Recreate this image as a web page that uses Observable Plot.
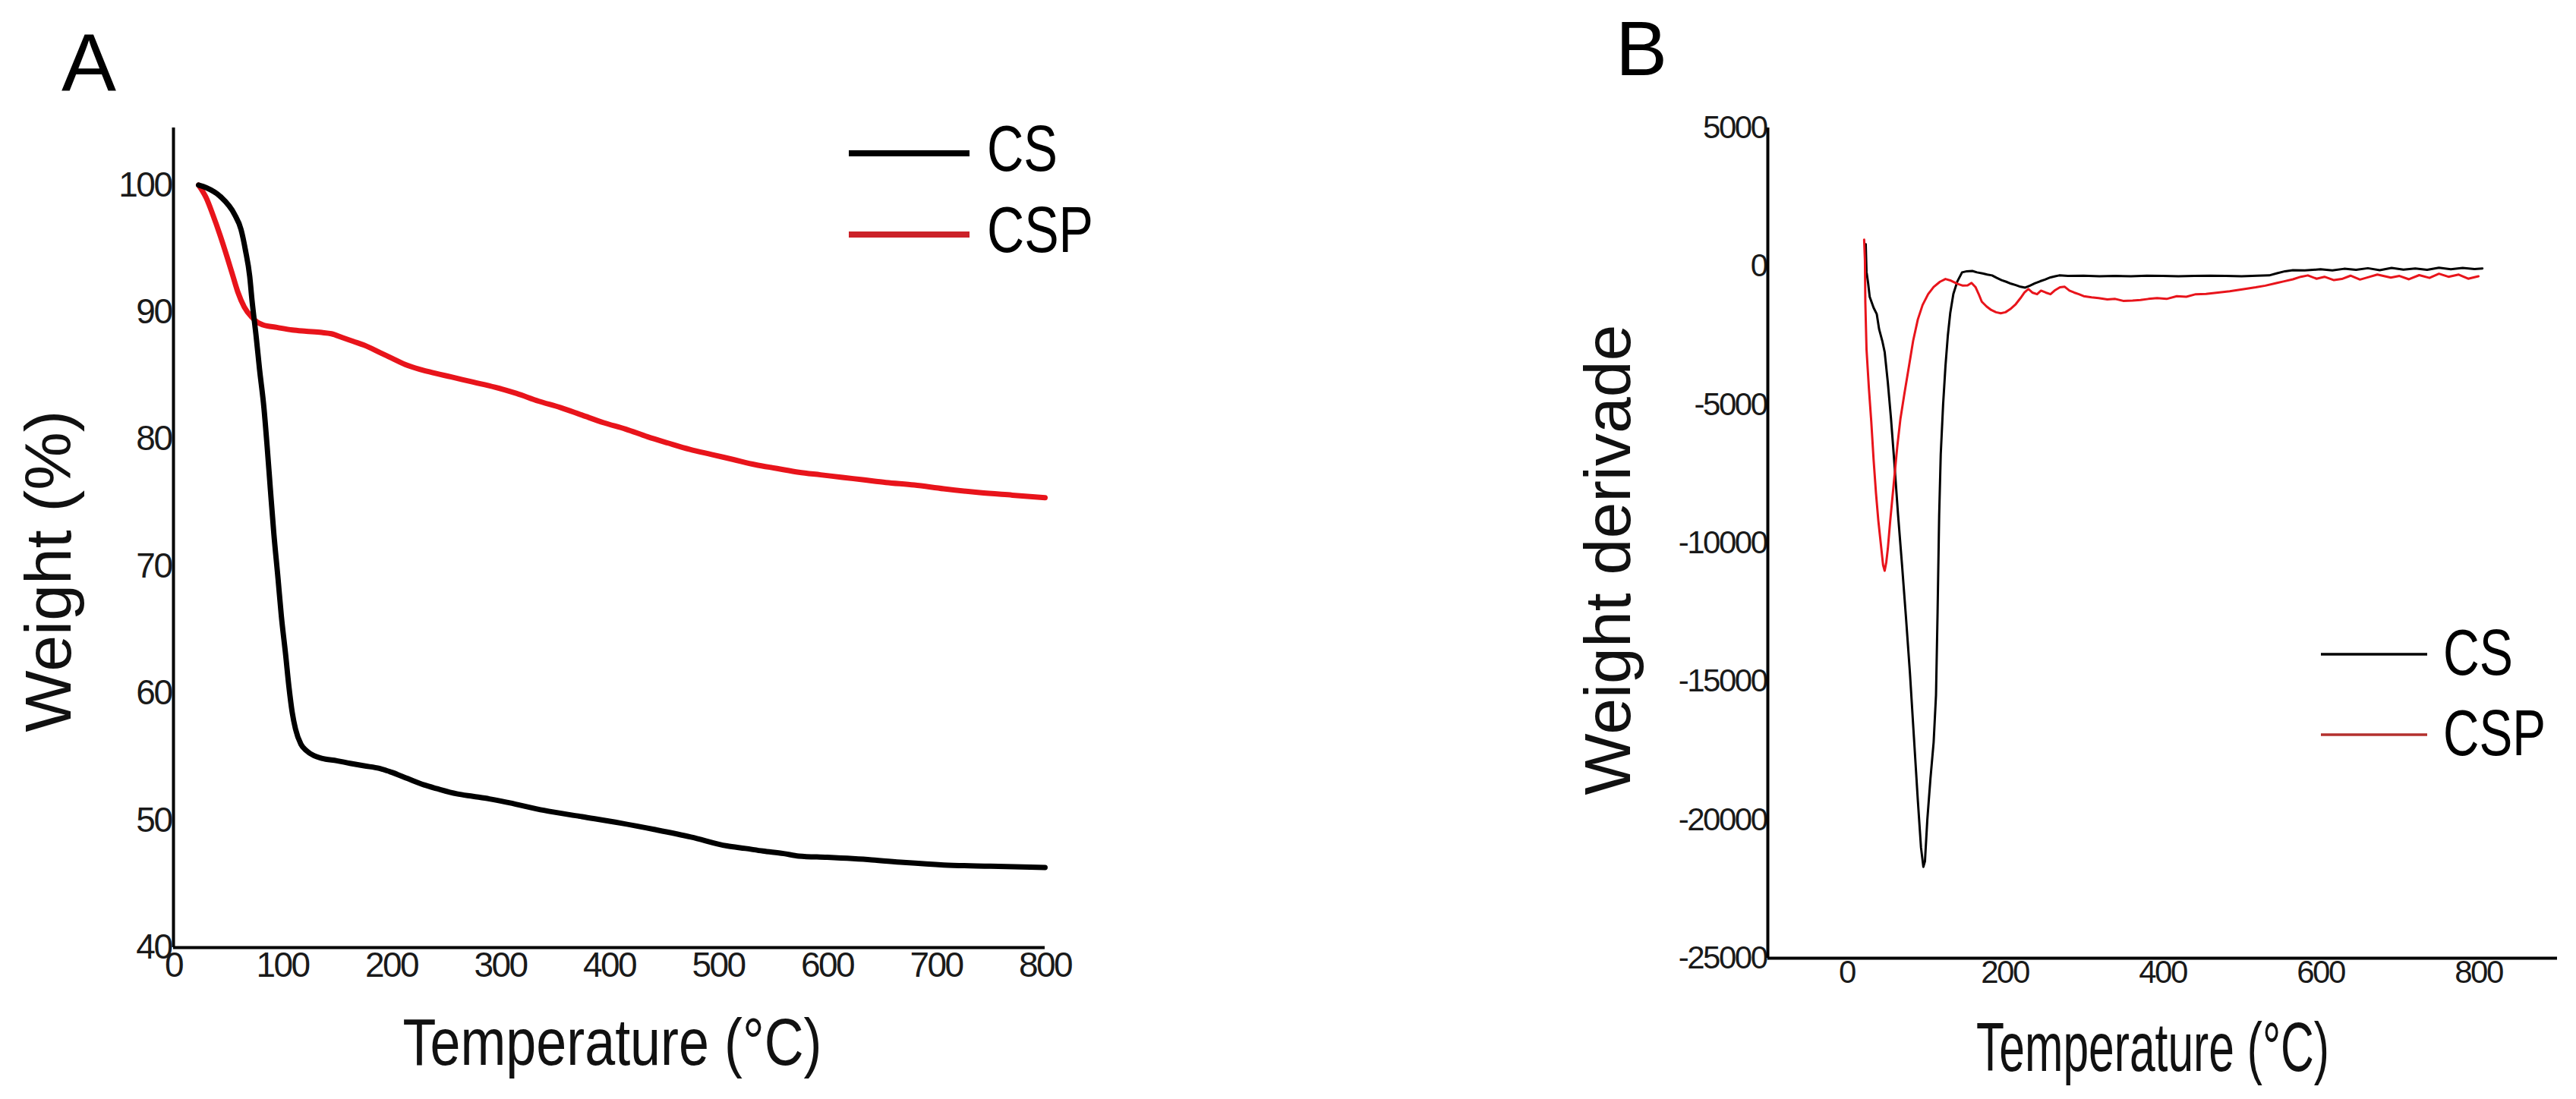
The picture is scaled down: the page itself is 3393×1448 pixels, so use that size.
<!DOCTYPE html>
<html>
<head>
<meta charset="utf-8">
<script src="https://cdn.jsdelivr.net/npm/d3@7"></script>
<script src="https://cdn.jsdelivr.net/npm/@observablehq/plot@0.6"></script>
<style>
html, body { margin: 0; padding: 0; background: #fff; }
#root { position: relative; width: 3393px; height: 1448px; overflow: hidden; background: #fff;
  font-family: "Liberation Sans", Arial, sans-serif; }
#root > svg { position: absolute; top: 0; margin: 0; }
#root [aria-label="x-axis tick label"] text,
#root [aria-label="y-axis tick label"] text { letter-spacing: -2.5px; }
</style>
</head>
<body>
<div id="root"></div>
<script>
// ---------- Series names / colours ----------
const seriesNames = ["CS", "CSP"];
const seriesColors = ["#000000", "#e8141b"];
const legendColorsA = ["#000000", "#cc2229"];
const legendColorsB = ["#000000", "#b3302e"];

// ---------- Panel A: TGA (Weight %) ----------
const ticksA_x = [0, 100, 200, 300, 400, 500, 600, 700, 800];
const ticksA_y = [40, 50, 60, 70, 80, 90, 100];

const tempA_CS = [23, 30, 43, 56, 62, 66, 70, 72, 76, 79, 83, 86, 89, 92, 96, 99, 103, 106, 109, 112,
  117, 122, 129, 136, 150, 162, 175, 189, 200, 215, 230, 242, 260, 275, 290, 308, 340, 375, 410, 441,
  475, 508, 525, 541, 560, 574, 600, 641, 670, 707, 750, 800];
const weightA_CS = [100, 99.8, 99.1, 97.7, 96.5, 94.9, 92.8, 91.0, 88.0, 85.5, 82.5, 79.4, 76.0, 72.7, 69.0, 66.1, 63.0, 60.5, 58.5, 57.2,
  56.0, 55.5, 55.1, 54.9, 54.7, 54.5, 54.3, 54.1, 53.8, 53.3, 52.8, 52.5, 52.1, 51.9, 51.7, 51.4, 50.8, 50.3, 49.8, 49.3,
  48.7, 48.0, 47.8, 47.6, 47.4, 47.2, 47.1, 46.9, 46.7, 46.5, 46.4, 46.3];

const tempA_CSP = [23, 30, 36, 43, 49, 54, 59, 65, 72, 77, 82, 95, 109, 122, 136, 145, 155, 165, 175, 190,
  200, 215, 235, 255, 275, 295, 315, 335, 355, 375, 395, 415, 435, 454, 474, 494, 514, 534, 554, 574,
  594, 614, 634, 654, 680, 707, 740, 770, 800];
const weightA_CSP = [100, 99.0, 97.7, 96.0, 94.4, 93.0, 91.6, 90.4, 89.6, 89.2, 89.0, 88.8, 88.6, 88.5, 88.4, 88.3, 88.0, 87.7, 87.4, 86.8,
  86.4, 85.8, 85.3, 84.9, 84.5, 84.1, 83.6, 83.0, 82.5, 81.9, 81.3, 80.8, 80.2, 79.7, 79.2, 78.8, 78.4, 78.0, 77.7, 77.4,
  77.2, 77.0, 76.8, 76.6, 76.4, 76.1, 75.8, 75.6, 75.4];

// ---------- Panel B: DTG (Weight derivade) ----------
const ticksB_x = [0, 200, 400, 600, 800];
const ticksB_y = [-25000, -20000, -15000, -10000, -5000, 0, 5000];

const tempB_CS = [24, 25, 27, 29, 34, 38, 41, 45, 48, 52, 56, 60, 65, 70, 75, 80, 85, 90, 94, 97,
  99, 102, 106, 110, 113, 115, 117, 119, 122, 125, 128, 131, 135, 140, 146, 152, 159, 165, 172, 178,
  184, 190, 196, 202, 208, 214, 220, 226, 232, 238, 245, 251, 258, 264, 269, 280, 300, 320, 340, 360,
  380, 400, 420, 440, 460, 480, 500, 520, 535, 545, 555, 565, 580, 600, 615, 630, 645, 660, 675, 690,
  705, 720, 735, 750, 765, 780, 795, 805];
const derivB_CS = [800, -200, -600, -1100, -1500, -1730, -2280, -2700, -3100, -4200, -5500, -7000, -9000, -10800, -12700, -14700, -17000, -19300, -21000, -21700,
  -21500, -20000, -18500, -17200, -15500, -12500, -9000, -6800, -5000, -3600, -2500, -1700, -1000, -550, -220, -180, -170, -220, -260, -300,
  -330, -420, -500, -560, -630, -680, -740, -770, -700, -620, -540, -480, -400, -360, -330, -350, -340, -360, -350, -360,
  -340, -350, -360, -350, -340, -350, -360, -340, -330, -250, -180, -140, -150, -110, -150, -90, -130, -70, -140, -60,
  -120, -80, -130, -50, -110, -60, -100, -80];

const tempB_CSP = [22, 23, 23.5, 25, 28, 31, 34, 37, 40, 43, 46, 48, 50, 52, 55, 58, 61, 64, 68, 73,
  79, 84, 90, 96, 103, 110, 118, 125, 132, 140, 147, 153, 158, 163, 167, 171, 177, 183, 189, 195,
  201, 207, 214, 220, 225, 230, 235, 241, 246, 252, 258, 264, 270, 276, 282, 288, 294, 300, 310, 319,
  330, 340, 350, 362, 372, 382, 393, 405, 418, 430, 442, 455, 470, 485, 504, 518, 530, 545, 553, 565,
  575, 584, 595, 605, 617, 627, 638, 650, 660, 672, 689, 700, 712, 725, 738, 750, 762, 775, 787, 800];
const derivB_CSP = [960, 200, -1300, -3000, -4400, -5600, -7000, -8200, -9200, -10000, -10800, -11000, -10700, -10200, -9200, -8300, -7400, -6500, -5500, -4600,
  -3570, -2700, -1920, -1400, -1010, -750, -560, -460, -520, -630, -700, -690, -600, -750, -1000, -1280, -1450, -1580, -1660, -1700,
  -1660, -1550, -1370, -1150, -950, -820, -950, -1010, -880, -950, -1010, -860, -760, -740, -880, -950, -1010, -1080, -1120, -1150,
  -1200, -1180, -1250, -1240, -1220, -1180, -1150, -1180, -1080, -1100, -1010, -1000, -950, -900, -820, -760, -700, -600, -550, -470,
  -380, -330, -450, -380, -500, -460, -340, -480, -400, -300, -410, -350, -470, -320, -420, -270, -380, -300, -450, -360];

// ---------- build tables ----------
const rowsA_CS = tempA_CS.map((t, i) => ({t, v: weightA_CS[i]}));
const rowsA_CSP = tempA_CSP.map((t, i) => ({t, v: weightA_CSP[i]}));
const rowsB_CS = tempB_CS.map((t, i) => ({t, v: derivB_CS[i]}));
const rowsB_CSP = tempB_CSP.map((t, i) => ({t, v: derivB_CSP[i]}));

const FONT = '"Liberation Sans", Arial, sans-serif';
const root = document.getElementById("root");

// ---------- Panel A ----------
const plotA = Plot.plot({
  width: 1700, height: 1448,
  marginLeft: 228, marginRight: 324, marginTop: 168, marginBottom: 200,
  style: {fontFamily: FONT, fontSize: "46px", color: "#1a1a1a", background: "transparent", overflow: "visible"},
  x: {type: "linear", domain: [0, 800]},
  y: {type: "linear", domain: [40, 104.5]},
  marks: [
    Plot.axisX(ticksA_x, {tickSize: 0, tickPadding: 6, label: null, tickFormat: d => String(d), fontSize: 46}),
    Plot.axisY(ticksA_y, {tickSize: 0, tickPadding: 3, label: null, tickFormat: d => String(d), fontSize: 46}),
    Plot.ruleX([0], {stroke: "#000", strokeWidth: 4}),
    Plot.ruleY([40], {stroke: "#000", strokeWidth: 4}),
    Plot.line(rowsA_CSP, {x: "t", y: "v", stroke: seriesColors[1], strokeWidth: 7, curve: "monotone-x"}),
    Plot.line(rowsA_CS, {x: "t", y: "v", stroke: seriesColors[0], strokeWidth: 7, curve: "monotone-x"}),
    Plot.text(["Weight (%)"], {text: d => d, frameAnchor: "left", textAnchor: "middle", lineAnchor: "middle",
      rotate: -90, dx: -163, dy: 44, fontSize: 86, fill: "#111"}),
    Plot.text(["Temperature (°C)"], {text: d => d, frameAnchor: "bottom", textAnchor: "middle", lineAnchor: "middle",
      dx: 4, dy: 126, fontSize: 88, fill: "#111"})
  ]
});
plotA.style.left = "0px";
root.appendChild(plotA);

// ---------- Panel B ----------
const plotB = Plot.plot({
  width: 1693, height: 1448,
  marginLeft: 628, marginRight: 25, marginTop: 168, marginBottom: 186,
  style: {fontFamily: FONT, fontSize: "42px", color: "#1a1a1a", background: "transparent", overflow: "visible"},
  x: {type: "linear", domain: [-100, 900]},
  y: {type: "linear", domain: [-25000, 5000]},
  marks: [
    Plot.axisX(ticksB_x, {tickSize: 0, tickPadding: 3, label: null, tickFormat: d => String(d), fontSize: 42}),
    Plot.axisY(ticksB_y, {tickSize: 0, tickPadding: 2, label: null, tickFormat: d => String(d), fontSize: 42}),
    Plot.ruleX([-100], {stroke: "#000", strokeWidth: 4}),
    Plot.ruleY([-25000], {stroke: "#000", strokeWidth: 4}),
    Plot.line(rowsB_CS, {x: "t", y: "v", stroke: seriesColors[0], strokeWidth: 3}),
    Plot.line(rowsB_CSP, {x: "t", y: "v", stroke: seriesColors[1], strokeWidth: 3}),
    Plot.text(["Weight derivade"], {text: d => d, frameAnchor: "left", textAnchor: "middle", lineAnchor: "middle",
      rotate: -90, dx: -209, dy: 22, fontSize: 86, fill: "#111"}),
    Plot.text(["Temperature (°C)"], {text: d => d, frameAnchor: "bottom", textAnchor: "middle", lineAnchor: "middle",
      dx: -13, dy: 120, fontSize: 90, fill: "#111"})
  ]
});
plotB.style.left = "1700px";
root.appendChild(plotB);

// condensed x-axis titles, as in the reference
function condense(svg, content, len) {
  d3.select(svg).selectAll("text")
    .filter(function() { return this.textContent === content; })
    .attr("textLength", len).attr("lengthAdjust", "spacingAndGlyphs");
}
condense(plotA, "Temperature (°C)", 552);
condense(plotB, "Temperature (°C)", 465);

// ---------- overlay: panel letters + legends ----------
const ov = d3.select(root).append("svg")
  .attr("width", 3393).attr("height", 1448)
  .style("position", "absolute").style("left", "0px").style("top", "0px")
  .style("font-family", FONT);

ov.append("text").attr("x", 81).attr("y", 120).attr("font-size", 108).attr("fill", "#000").text("A");
ov.append("text").attr("x", 2128).attr("y", 99).attr("font-size", 102).attr("fill", "#000").text("B");

function legend(x0, x1, tx, ys, baselines, sw, fs, lens, colors) {
  seriesNames.forEach((name, i) => {
    ov.append("line").attr("x1", x0).attr("x2", x1).attr("y1", ys[i]).attr("y2", ys[i])
      .attr("stroke", colors[i]).attr("stroke-width", sw);
    ov.append("text").attr("x", tx).attr("y", baselines[i]).attr("font-size", fs).attr("fill", "#000")
      .attr("textLength", lens[i]).attr("lengthAdjust", "spacingAndGlyphs").text(name);
  });
}
legend(1118, 1277, 1300, [202, 309], [225, 332], 8, 86, [93, 140], legendColorsA);
legend(3057, 3197, 3218, [862, 968], [889, 995], 3.5, 85, [92, 135], legendColorsB);
</script>
</body>
</html>
